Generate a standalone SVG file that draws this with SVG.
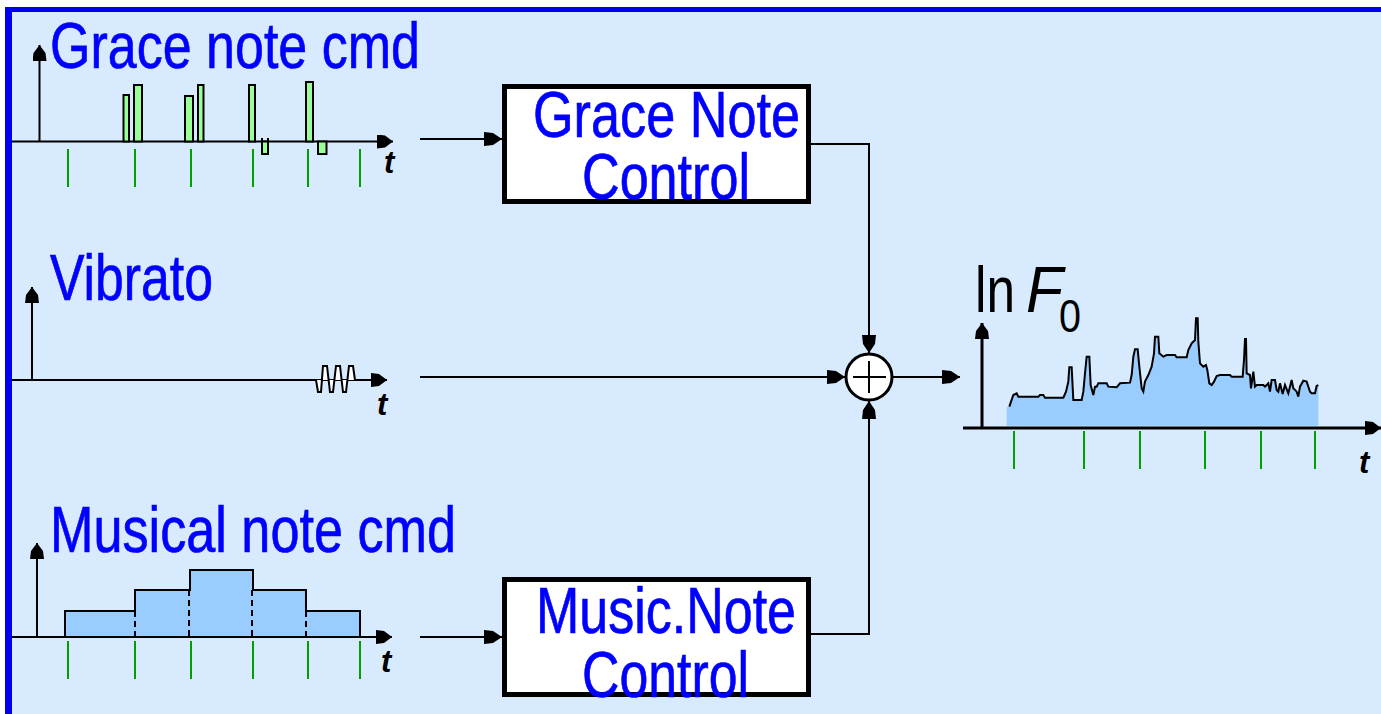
<svg xmlns="http://www.w3.org/2000/svg" width="1381" height="714" viewBox="0 0 1381 714">
<style>
.lbl{font-family:"Liberation Sans",Arial,sans-serif;font-size:65px;fill:#0000ff;stroke:#0000ff;stroke-width:0.7}
.blk{font-family:"Liberation Sans",Arial,sans-serif;fill:#000}
.tl{font-family:"Liberation Sans",Arial,sans-serif;font-size:31px;font-style:italic;font-weight:bold;fill:#000}
.ax{stroke:#000;stroke-width:2;fill:none}
.tick{stroke:#00a000;stroke-width:2}
.bar{fill:#99ff99;stroke:#000;stroke-width:2}
.box{fill:#fff;stroke:#000;stroke-width:5}
.con{stroke:#000;stroke-width:2;fill:none}
</style>
<defs>
<marker id="ah" markerUnits="userSpaceOnUse" markerWidth="18" markerHeight="16" refX="18" refY="8" orient="auto">
<path d="M0,1 L9,2 L18,8 L9,14 L0,15 Z" fill="#000"/>
</marker>
<marker id="axh" markerUnits="userSpaceOnUse" markerWidth="16" markerHeight="14" refX="16" refY="7" orient="auto">
<path d="M0,0 L8,1 L16,7 L8,13 L0,14 Z" fill="#000"/>
</marker>
</defs>
<rect x="0" y="0" width="1381" height="714" fill="#fff"/>
<rect x="5" y="7" width="1376" height="707" fill="#d8eafd"/>
<rect x="5" y="7" width="1376" height="5" fill="#0000ee"/>
<rect x="5" y="7" width="7" height="707" fill="#0000ee"/>

<g id="grace-cmd">
<text class="lbl" x="50" y="68" textLength="370" lengthAdjust="spacingAndGlyphs">Grace note cmd</text>
<line class="ax" x1="39.5" y1="141.5" x2="39.5" y2="45" marker-end="url(#axh)"/>
<line class="ax" x1="12" y1="141.5" x2="393" y2="141.5" marker-end="url(#axh)"/>
<rect class="bar" x="123.5" y="95" width="5.5" height="46.5"/>
<rect class="bar" x="134" y="85" width="8" height="56.5"/>
<rect class="bar" x="185" y="96" width="8" height="45.5"/>
<rect class="bar" x="198" y="85" width="5.5" height="56.5"/>
<rect class="bar" x="249" y="85" width="6" height="56.5"/>
<rect class="bar" x="262" y="141.5" width="6" height="12.5"/>
<line class="ax" x1="262" y1="138" x2="262" y2="141.5"/>
<line class="ax" x1="268" y1="138" x2="268" y2="141.5"/>
<rect class="bar" x="306" y="82" width="7" height="59.5"/>
<rect class="bar" x="318" y="141.5" width="8.5" height="12.5"/>
<g class="tick">
<line x1="68" y1="149" x2="68" y2="187"/><line x1="135" y1="149" x2="135" y2="187"/><line x1="191" y1="149" x2="191" y2="187"/><line x1="253" y1="149" x2="253" y2="187"/><line x1="308" y1="149" x2="308" y2="187"/><line x1="360" y1="149" x2="360" y2="187"/>
</g>
<text class="tl" x="384" y="173">t</text>
</g>

<g id="vibrato">
<text class="lbl" x="50" y="300" textLength="163" lengthAdjust="spacingAndGlyphs">Vibrato</text>
<line class="ax" x1="32" y1="380" x2="32" y2="287" marker-end="url(#axh)"/>
<line class="ax" x1="12" y1="380" x2="387" y2="380" marker-end="url(#axh)"/>
<path d="M316,380 L318,392 L321,392 L323,366 L327,366 L330,392 L333,392 L336,366 L340,366 L343,392 L346,392 L349,366 L353,366 L355,380" fill="#fff" stroke="#000" stroke-width="2"/>
<text class="tl" x="377" y="415">t</text>
</g>

<g id="musical-cmd">
<text class="lbl" x="50" y="552" textLength="406" lengthAdjust="spacingAndGlyphs">Musical note cmd</text>
<path d="M65,637 L65,611 L135,611 L135,590 L190,590 L190,570 L253,570 L253,590 L306,590 L306,611 L360,611 L360,637" fill="#99ccff" stroke="#000" stroke-width="2"/>
<g stroke="#000" stroke-width="2" stroke-dasharray="6,4">
<line x1="135" y1="611" x2="135" y2="637"/>
<line x1="189" y1="590" x2="189" y2="637"/>
<line x1="252" y1="590" x2="252" y2="637"/>
<line x1="306" y1="611" x2="306" y2="637"/>
</g>
<line class="ax" x1="37" y1="637" x2="37" y2="543" marker-end="url(#axh)"/>
<line class="ax" x1="12" y1="637" x2="392" y2="637" marker-end="url(#axh)"/>
<g class="tick">
<line x1="68" y1="641" x2="68" y2="679"/><line x1="135" y1="641" x2="135" y2="679"/><line x1="191" y1="641" x2="191" y2="679"/><line x1="253" y1="641" x2="253" y2="679"/><line x1="308" y1="641" x2="308" y2="679"/><line x1="360" y1="641" x2="360" y2="679"/>
</g>
<text class="tl" x="381" y="672">t</text>
</g>

<g id="grace-control">
<rect class="box" x="504.5" y="86.5" width="304" height="115"/>
<text class="lbl" x="533" y="137" textLength="267" lengthAdjust="spacingAndGlyphs">Grace Note</text>
<text class="lbl" x="582" y="199" textLength="168" lengthAdjust="spacingAndGlyphs">Control</text>
</g>

<g id="music-control">
<rect class="box" x="504.5" y="579.5" width="304" height="115"/>
<text class="lbl" x="536" y="633" textLength="260" lengthAdjust="spacingAndGlyphs">Music.Note</text>
<text class="lbl" x="582" y="697" textLength="167" lengthAdjust="spacingAndGlyphs">Control</text>
</g>

<g id="sum">
<circle cx="869" cy="377" r="23" fill="#fff" stroke="#000" stroke-width="3"/>
<line x1="853" y1="377" x2="886" y2="377" stroke="#000" stroke-width="2"/>
<line x1="869" y1="361" x2="869" y2="393" stroke="#000" stroke-width="2"/>
</g>

<g id="output">
<text class="blk" x="975" y="312" font-size="64" textLength="40" lengthAdjust="spacingAndGlyphs">ln</text>
<text class="blk" x="1026" y="312" font-size="64" font-style="italic" textLength="37" lengthAdjust="spacingAndGlyphs">F</text>
<text class="blk" x="1059" y="332" font-size="47" textLength="22" lengthAdjust="spacingAndGlyphs">0</text>
<g transform="translate(950,260) scale(0.33333)">
<path d="M170,497 L170,440 L178,440 L190,405 L200,400 L205,410 L265,410 L270,405 L280,405 L285,413 L340,413 L348,395 L355,365 L358,322 L365,322 L370,420 L395,420 L400,395 L405,340 L410,290 L418,290 L422,375 L430,405 L435,380 L440,380 L445,370 L470,370 L475,380 L500,382 L510,370 L540,368 L545,345 L550,290 L555,268 L563,268 L568,320 L575,385 L580,395 L585,365 L595,345 L605,320 L612,280 L615,230 L625,230 L628,280 L640,290 L650,285 L675,285 L680,292 L710,292 L715,270 L725,250 L735,240 L738,175 L743,175 L745,245 L750,310 L760,320 L768,315 L772,330 L778,370 L785,375 L792,365 L800,348 L810,345 L840,345 L845,350 L878,350 L882,300 L885,237 L888,237 L890,340 L900,345 L903,385 L910,335 L915,380 L920,375 L940,375 L945,380 L955,370 L960,395 L965,360 L975,360 L980,390 L985,395 L990,370 L998,402 L1005,375 L1015,400 L1025,360 L1030,385 L1040,395 L1045,410 L1050,380 L1060,362 L1070,365 L1080,395 L1085,400 L1095,400 L1100,378 L1105,375 L1105,497 Z" fill="#99ccff"/>
<path d="M178,440 L190,405 L200,400 L205,410 L265,410 L270,405 L280,405 L285,413 L340,413 L348,395 L355,365 L358,322 L365,322 L370,420 L395,420 L400,395 L405,340 L410,290 L418,290 L422,375 L430,405 L435,380 L440,380 L445,370 L470,370 L475,380 L500,382 L510,370 L540,368 L545,345 L550,290 L555,268 L563,268 L568,320 L575,385 L580,395 L585,365 L595,345 L605,320 L612,280 L615,230 L625,230 L628,280 L640,290 L650,285 L675,285 L680,292 L710,292 L715,270 L725,250 L735,240 L738,175 L743,175 L745,245 L750,310 L760,320 L768,315 L772,330 L778,370 L785,375 L792,365 L800,348 L810,345 L840,345 L845,350 L878,350 L882,300 L885,237 L888,237 L890,340 L900,345 L903,385 L910,335 L915,380 L920,375 L940,375 L945,380 L955,370 L960,395 L965,360 L975,360 L980,390 L985,395 L990,370 L998,402 L1005,375 L1015,400 L1025,360 L1030,385 L1040,395 L1045,410 L1050,380 L1060,362 L1070,365 L1080,395 L1085,400 L1095,400 L1100,378 L1105,375" fill="none" stroke="#000" stroke-width="2" vector-effect="non-scaling-stroke"/>
</g>
<line x1="982" y1="428" x2="982" y2="323" stroke="#000" stroke-width="3" marker-end="url(#axh)"/>
<line x1="963" y1="428" x2="1381" y2="428" stroke="#000" stroke-width="3" marker-end="url(#axh)"/>
<g class="tick">
<line x1="1014" y1="431" x2="1014" y2="469"/><line x1="1084" y1="431" x2="1084" y2="469"/><line x1="1140" y1="431" x2="1140" y2="469"/><line x1="1205" y1="431" x2="1205" y2="469"/><line x1="1261" y1="431" x2="1261" y2="469"/><line x1="1315" y1="431" x2="1315" y2="469"/>
</g>
<text class="tl" x="1359" y="473">t</text>
</g>

<g id="connectors">
<line class="con" x1="420" y1="139" x2="502" y2="139" marker-end="url(#ah)"/>
<polyline class="con" points="811,144 869,144 869,353" marker-end="url(#ah)"/>
<line class="con" x1="420" y1="377" x2="845" y2="377" marker-end="url(#ah)"/>
<line class="con" x1="420" y1="637" x2="502" y2="637" marker-end="url(#ah)"/>
<polyline class="con" points="811,634 869,634 869,401" marker-end="url(#ah)"/>
<line class="con" x1="893" y1="377" x2="960" y2="377" marker-end="url(#ah)"/>
</g>
</svg>
